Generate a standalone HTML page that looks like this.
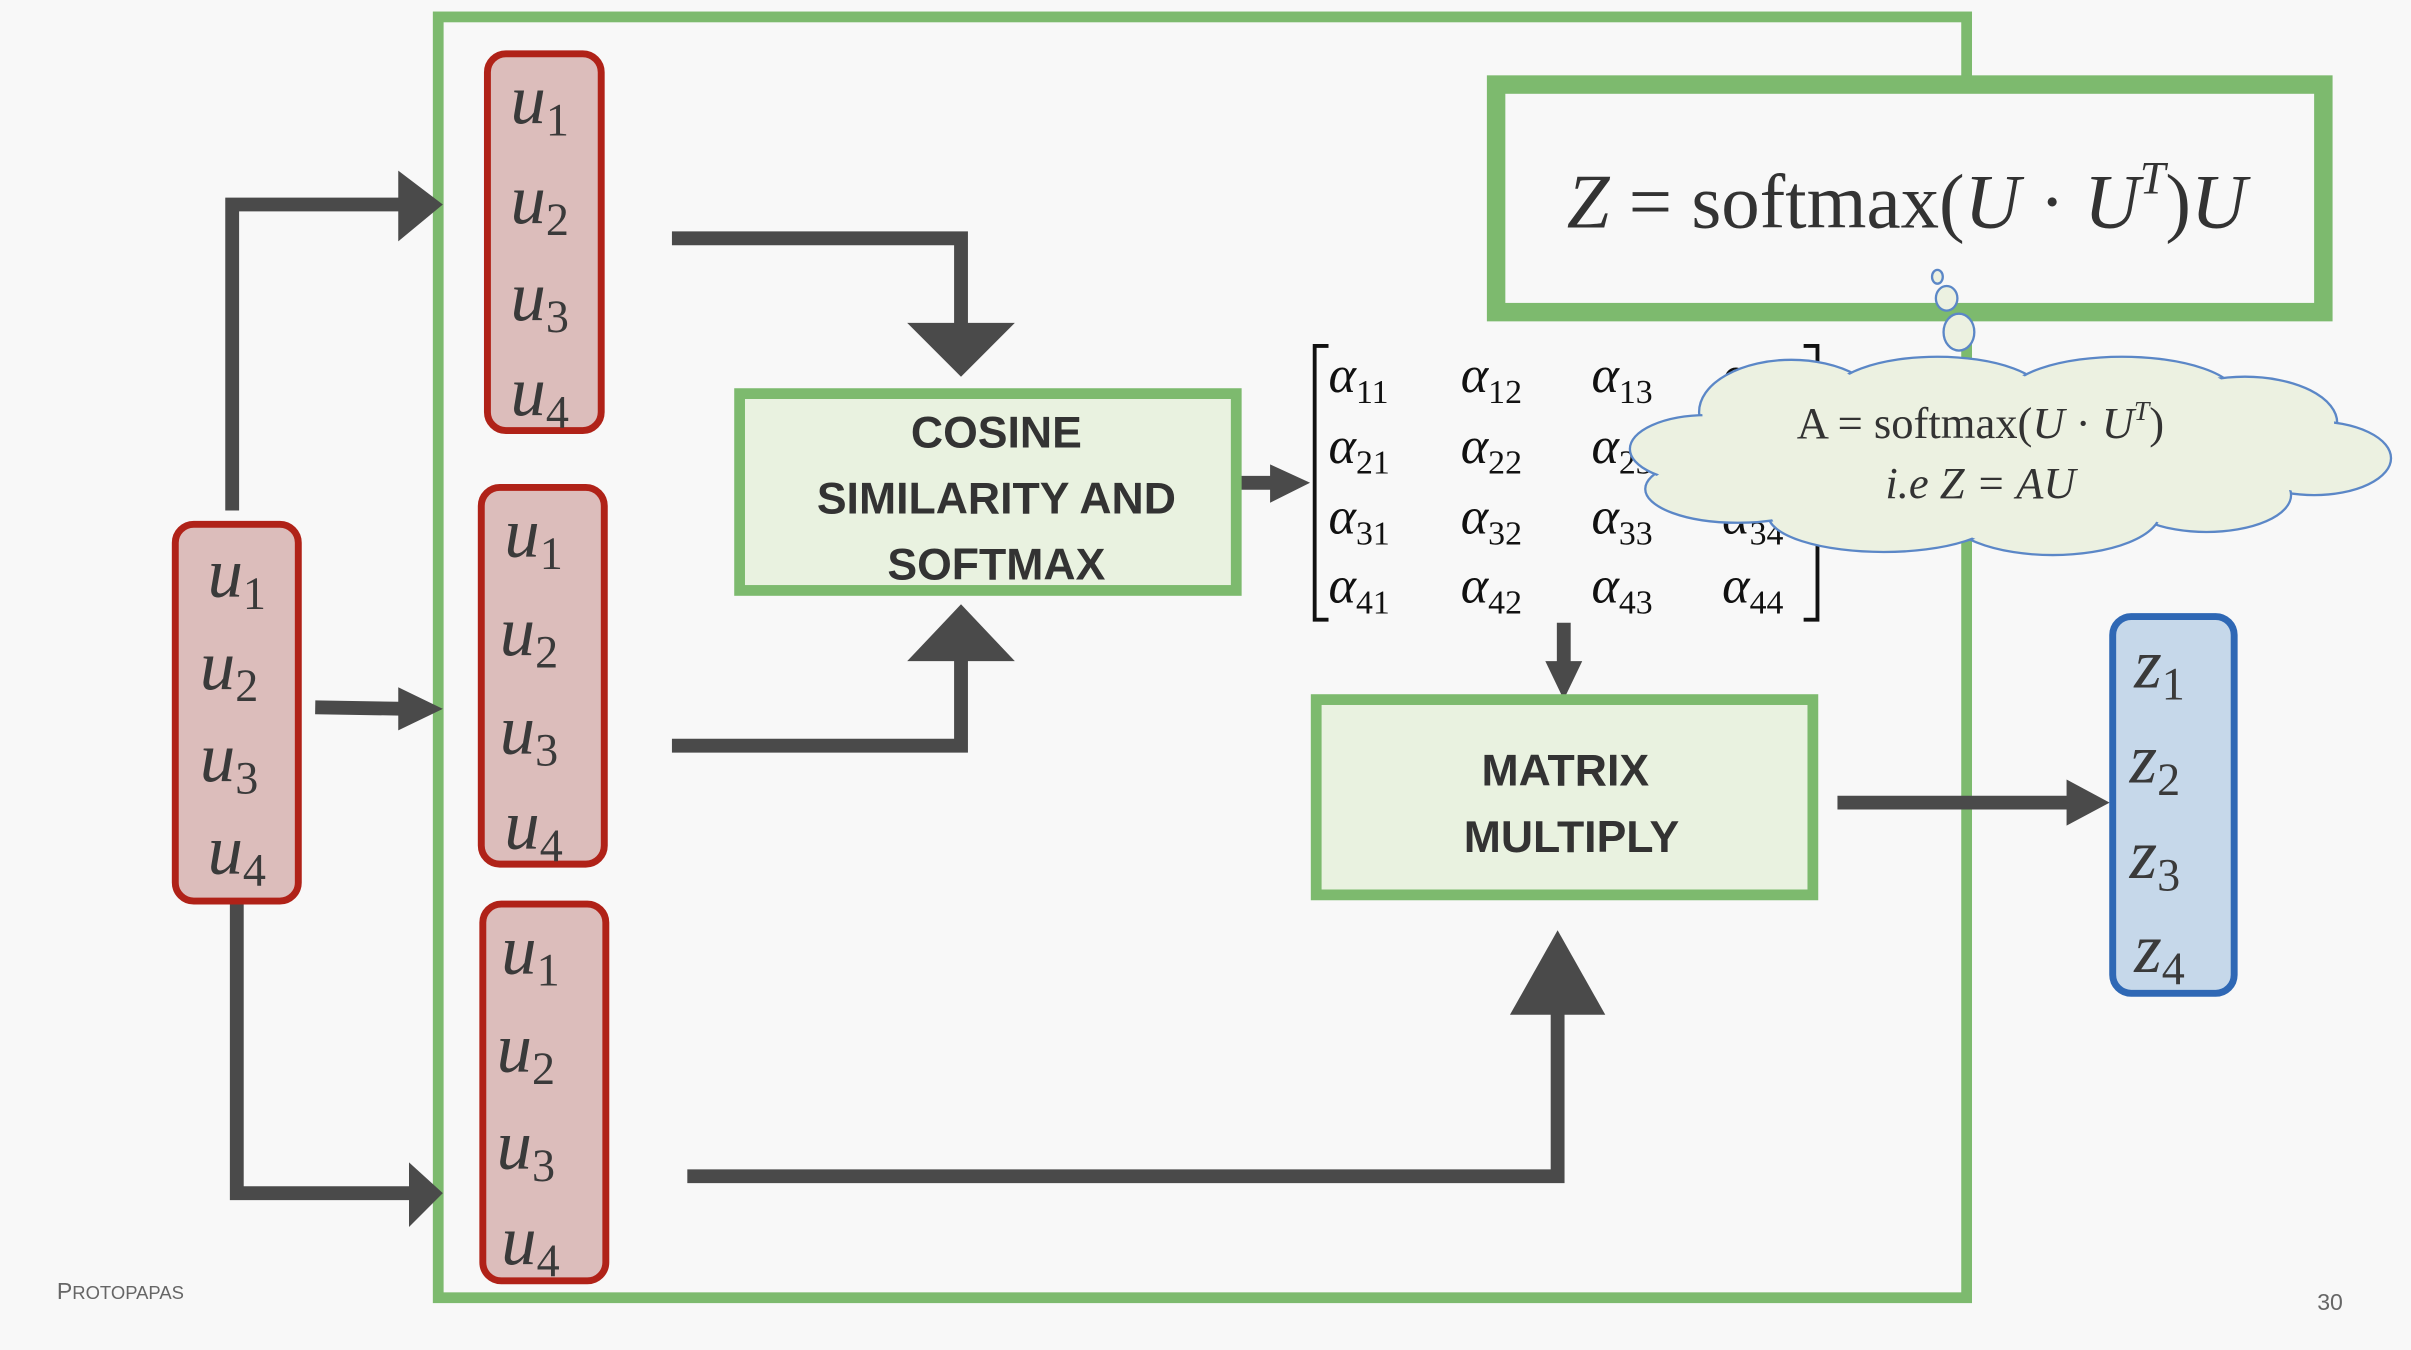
<!DOCTYPE html>
<html><head><meta charset="utf-8"><style>
html,body{margin:0;padding:0;background:#f8f8f8;}
svg{display:block}
.u{font-family:"Liberation Serif",serif;font-style:italic;fill:#3a3a3a;font-size:46px}
.s{font-size:30px;font-style:normal}
.a{font-family:"Liberation Serif",serif;font-style:italic;fill:#111;font-size:34px}
.as{font-size:22px;font-style:normal}
.b{font-family:"Liberation Sans",sans-serif;font-weight:bold;fill:#333;font-size:29px;text-anchor:middle}
</style></head><body>
<svg width="2411" height="1350" viewBox="0 0 1568 878" preserveAspectRatio="none" xmlns="http://www.w3.org/2000/svg">
<rect width="1568" height="878" fill="#f8f8f8"/>
<!-- big frame -->
<rect x="285" y="11" width="994" height="833" fill="none" stroke="#7dba6e" stroke-width="7"/>
<!-- arrows -->
<g fill="none" stroke="#4a4a4a" stroke-width="9">
<polyline points="151,332 151,133 262,133"/>
<line x1="205" y1="460" x2="265" y2="461"/>
<polyline points="154,588 154,776 266,776"/>
<polyline points="437,155 625,155 625,212"/>
<polyline points="437,485 625,485 625,428"/>
<polyline points="447,765 1013,765 1013,658"/>
<line x1="805" y1="314" x2="828" y2="314"/>
<line x1="1017" y1="405" x2="1017" y2="432"/>
<line x1="1195" y1="522" x2="1346" y2="522"/>
</g>
<g fill="#4a4a4a">
<polygon points="259,111 288,133 259,157"/>
<polygon points="259,447 288,461 259,475"/>
<polygon points="266,756 288,776 266,798"/>
<polygon points="590,210 660,210 625,245"/>
<polygon points="590,430 660,430 625,393"/>
<polygon points="982,660 1044,660 1013,605"/>
<polygon points="826,302 852,314 826,327"/>
<polygon points="1005,430 1029,430 1017,455"/>
<polygon points="1344,507 1372,522 1344,537"/>
</g>
<!-- u boxes -->
<g fill="#dcbdbb" stroke="#b02218" stroke-width="4.5">
<rect x="114" y="341" width="80" height="245" rx="12"/>
<rect x="317" y="35" width="74" height="245" rx="12"/>
<rect x="313" y="317" width="80" height="245" rx="12"/>
<rect x="314" y="588" width="80" height="245" rx="12"/>
</g>
<g class="u">
<text x="135" y="388">u<tspan class="s" dy="8">1</tspan></text>
<text x="130" y="448">u<tspan class="s" dy="8">2</tspan></text>
<text x="130" y="508">u<tspan class="s" dy="8">3</tspan></text>
<text x="135" y="568">u<tspan class="s" dy="8">4</tspan></text>
<text x="332" y="80">u<tspan class="s" dy="8">1</tspan></text>
<text x="332" y="145">u<tspan class="s" dy="8">2</tspan></text>
<text x="332" y="208">u<tspan class="s" dy="8">3</tspan></text>
<text x="332" y="270">u<tspan class="s" dy="8">4</tspan></text>
<text x="328" y="362">u<tspan class="s" dy="8">1</tspan></text>
<text x="325" y="426">u<tspan class="s" dy="8">2</tspan></text>
<text x="325" y="490">u<tspan class="s" dy="8">3</tspan></text>
<text x="328" y="552">u<tspan class="s" dy="8">4</tspan></text>
<text x="326" y="633">u<tspan class="s" dy="8">1</tspan></text>
<text x="323" y="697">u<tspan class="s" dy="8">2</tspan></text>
<text x="323" y="760">u<tspan class="s" dy="8">3</tspan></text>
<text x="326" y="822">u<tspan class="s" dy="8">4</tspan></text>
</g>
<!-- z box -->
<rect x="1374" y="401" width="79" height="245" rx="12" fill="#c6d8ea" stroke="#2f68b5" stroke-width="4.5"/>
<g class="u">
<text x="1388" y="447">z<tspan class="s" dy="8">1</tspan></text>
<text x="1385" y="509">z<tspan class="s" dy="8">2</tspan></text>
<text x="1385" y="571">z<tspan class="s" dy="8">3</tspan></text>
<text x="1388" y="632">z<tspan class="s" dy="8">4</tspan></text>
</g>
<!-- cosine box -->
<rect x="481" y="256" width="323" height="128" fill="#e9f2e0" stroke="#7dba6e" stroke-width="7"/>
<text class="b" x="648" y="291">COSINE</text>
<text class="b" x="648" y="334">SIMILARITY AND</text>
<text class="b" x="648" y="377">SOFTMAX</text>
<!-- matrix multiply -->
<rect x="856" y="455" width="323" height="127" fill="#e9f2e0" stroke="#7dba6e" stroke-width="7"/>
<text class="b" x="1018" y="511">MATRIX</text>
<text class="b" x="1022" y="554">MULTIPLY</text>
<!-- matrix -->
<g fill="none" stroke="#111" stroke-width="2.5">
<polyline points="864,225 855,225 855,403 864,403"/>
<polyline points="1173,225 1182,225 1182,403 1173,403"/>
</g>
<g class="a">
<text x="864" y="255">α<tspan class="as" dy="7">11</tspan></text>
<text x="950" y="255">α<tspan class="as" dy="7">12</tspan></text>
<text x="1035" y="255">α<tspan class="as" dy="7">13</tspan></text>
<text x="1120" y="255">α<tspan class="as" dy="7">14</tspan></text>
<text x="864" y="301">α<tspan class="as" dy="7">21</tspan></text>
<text x="950" y="301">α<tspan class="as" dy="7">22</tspan></text>
<text x="1035" y="301">α<tspan class="as" dy="7">23</tspan></text>
<text x="1120" y="301">α<tspan class="as" dy="7">24</tspan></text>
<text x="864" y="347">α<tspan class="as" dy="7">31</tspan></text>
<text x="950" y="347">α<tspan class="as" dy="7">32</tspan></text>
<text x="1035" y="347">α<tspan class="as" dy="7">33</tspan></text>
<text x="1120" y="347">α<tspan class="as" dy="7">34</tspan></text>
<text x="864" y="392">α<tspan class="as" dy="7">41</tspan></text>
<text x="950" y="392">α<tspan class="as" dy="7">42</tspan></text>
<text x="1035" y="392">α<tspan class="as" dy="7">43</tspan></text>
<text x="1120" y="392">α<tspan class="as" dy="7">44</tspan></text>
</g>
<!-- formula box -->
<rect x="973" y="55" width="538" height="148" fill="#f8f8f8" stroke="#7dba6e" stroke-width="12"/>
<text x="1240" y="148" text-anchor="middle" font-family="Liberation Serif,serif" font-size="50" fill="#333"><tspan font-style="italic">Z</tspan> = softmax(<tspan font-style="italic">U</tspan> · <tspan font-style="italic">U</tspan><tspan font-style="italic" font-size="30" dy="-22">T</tspan><tspan dy="22">)</tspan><tspan font-style="italic">U</tspan></text>
<!-- cloud -->
<g fill="#ecf1e1" stroke="#5b87c7" stroke-width="1.5">
<ellipse cx="1165" cy="268" rx="60" ry="34"/>
<ellipse cx="1260" cy="258" rx="70" ry="26"/>
<ellipse cx="1380" cy="258" rx="75" ry="26"/>
<ellipse cx="1460" cy="275" rx="60" ry="30"/>
<ellipse cx="1505" cy="298" rx="50" ry="24"/>
<ellipse cx="1435" cy="322" rx="55" ry="24"/>
<ellipse cx="1335" cy="333" rx="70" ry="28"/>
<ellipse cx="1225" cy="335" rx="75" ry="24"/>
<ellipse cx="1130" cy="318" rx="60" ry="22"/>
<ellipse cx="1110" cy="292" rx="50" ry="22"/>
<ellipse cx="1260" cy="180" rx="3.5" ry="4.5"/>
<ellipse cx="1266" cy="194" rx="7" ry="8"/>
<ellipse cx="1274" cy="216" rx="10" ry="12"/>
</g>
<g fill="#ecf1e1">
<ellipse cx="1165" cy="268" rx="58" ry="32"/>
<ellipse cx="1260" cy="258" rx="68" ry="24"/>
<ellipse cx="1380" cy="258" rx="73" ry="24"/>
<ellipse cx="1460" cy="275" rx="58" ry="28"/>
<ellipse cx="1505" cy="298" rx="48" ry="22"/>
<ellipse cx="1435" cy="322" rx="53" ry="22"/>
<ellipse cx="1335" cy="333" rx="68" ry="26"/>
<ellipse cx="1225" cy="335" rx="73" ry="22"/>
<ellipse cx="1130" cy="318" rx="58" ry="20"/>
<ellipse cx="1110" cy="292" rx="48" ry="20"/>
<ellipse cx="1300" cy="297" rx="180" ry="45"/>
</g>
<text x="1288" y="285" text-anchor="middle" font-family="Liberation Serif,serif" font-size="29" fill="#333">A =  softmax(<tspan font-style="italic">U</tspan> · <tspan font-style="italic">U</tspan><tspan font-style="italic" font-size="18" dy="-12">T</tspan><tspan dy="12">)</tspan></text>
<text x="1288" y="324" text-anchor="middle" font-family="Liberation Serif,serif" font-style="italic" font-size="29" fill="#333">i.e Z = AU</text>
<!-- footer -->
<text x="37" y="845" font-family="Liberation Sans,sans-serif" font-size="15" fill="#666">P<tspan font-size="12">ROTOPAPAS</tspan></text>
<text x="1507" y="852" font-family="Liberation Sans,sans-serif" font-size="15" fill="#666">30</text>
</svg>
</body></html>
